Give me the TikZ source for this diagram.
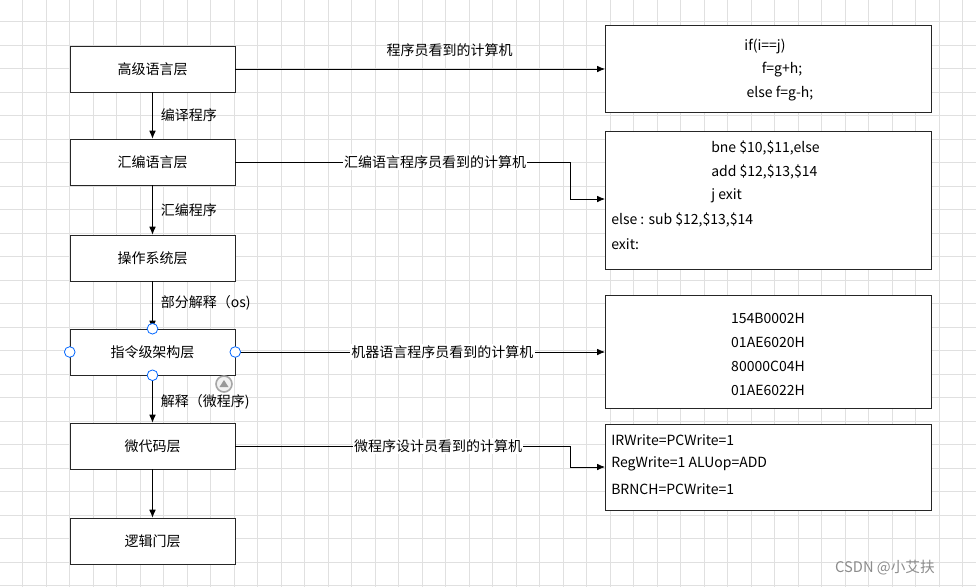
\documentclass[tikz,border=0pt]{standalone}
\usepackage{fontspec}
\setmainfont{Noto Sans CJK SC}
\usetikzlibrary{arrows.meta}
\tikzset{
  layer/.style={draw=black!85, fill=white, minimum width=123.75pt, minimum height=34.5pt, inner sep=0pt, font=\fontsize{10.5}{12}\selectfont},
  panel/.style={draw=black!85, fill=white},
  txt/.style={inner sep=0pt, font=\fontsize{10.5}{12}\selectfont},
  lbl/.style={fill=white, inner sep=1pt, font=\fontsize{10.5}{12}\selectfont},
  handle/.style={circle, draw=blue!60!cyan, fill=white, minimum size=8pt, inner sep=0pt, line width=0.6pt},
  link/.style={-{Latex[length=6pt,width=5pt]}, line width=0.6pt}
}
\begin{document}
\begin{tikzpicture}[x=0.75pt, y=-0.75pt]

\useasboundingbox (0,0) rectangle (976,587);
\fill[white] (0,0) rectangle (976,587);

% grid
\foreach \gx in {0,...,41} \draw[black!12, line width=0.6pt] ({22.7+23.5*\gx},0) -- ({22.7+23.5*\gx},587);
\foreach \gy in {0,...,24} \draw[black!12, line width=0.6pt] (0,{21.5+23.5*\gy}) -- (976,{21.5+23.5*\gy});

% left column
\node[layer] (high) at (152.5,69) {高级语言层};
\node[layer] (asm) at (152.5,162) {汇编语言层};
\node[layer] (os) at (152.5,258) {操作系统层};
\node[layer] (isa) at (152.5,352) {指令级架构层};
\node[layer] (micro) at (152.5,446) {微代码层};
\node[layer] (gate) at (152.5,541) {逻辑门层};

% right panels
\draw[panel] (605,25) rectangle (931,112);
\draw[panel] (605,131) rectangle (931,269);
\draw[panel] (605,295) rectangle (931,408);
\draw[panel] (605,424) rectangle (931,510);
\coordinate (p1) at (605,69);
\coordinate (p2) at (605,199);
\coordinate (p3) at (605,352);
\coordinate (p4) at (605,467);

% panel texts
\node[txt] (c1a) at (765,46) {if(i==j)};
\node[txt] (c1b) at (782,70) {f=g+h;};
\node[txt] (c1c) at (780,94) {else f=g-h;};
\node[txt, anchor=west] (c2a) at (711,148) {bne \$10,\$11,else};
\node[txt, anchor=west] (c2b) at (711,172) {add \$12,\$13,\$14};
\node[txt, anchor=west] (c2c) at (711,196) {j exit};
\node[txt, anchor=west] (c2d) at (611,220) {else : sub \$12,\$13,\$14};
\node[txt, anchor=west] (c2e) at (611,244) {exit:};
\node[txt] (c3a) at (768,318) {154B0002H};
\node[txt] (c3b) at (768,342) {01AE6020H};
\node[txt] (c3c) at (768,366) {80000C04H};
\node[txt] (c3d) at (768,390) {01AE6022H};
\node[txt, anchor=west] (c4a) at (611,440) {IRWrite=PCWrite=1};
\node[txt, anchor=west] (c4b) at (611,464) {RegWrite=1 ALUop=ADD};
\node[txt, anchor=west] (c4c) at (611,489) {BRNCH=PCWrite=1};

% vertical arrows
\draw[link] (high) -- (asm) node[txt, midway, right=6pt] {编译程序};
\draw[link] (asm) -- (os) node[txt, midway, right=6pt] {汇编程序};
\draw[link] (os) -- (isa) node[txt, pos=0.45, right=6pt] {部分解释（os)};
\draw[link] (isa) -- (micro) node[txt, pos=0.55, right=6pt] {解释（微程序)};
\draw[link] (micro) -- (gate);

% horizontal links
\draw[link] (high) -- (p1) node[txt, pos=0.58, above=9pt] {程序员看到的计算机};
\draw[link] (asm.east) -- (570,162) -- (570,199) -- (p2);
\node[lbl] (l2) at (435,162) {汇编语言程序员看到的计算机};
\draw[link] (isa) -- (p3) node[lbl, pos=0.56] {机器语言程序员看到的计算机};
\draw[link] (micro.east) -- (570,446) -- (570,467) -- (p4);
\node[lbl] (l4) at (438,446) {微程序设计员看到的计算机};

% selection handles
\node[handle] (hn) at (isa.north) {};
\node[handle] (hs) at (isa.south) {};
\node[handle] (hw) at (isa.west) {};
\node[handle] (he) at (isa.east) {};
\node[circle, draw=black!35, fill=black!5, line width=1.2pt, minimum size=12pt, inner sep=0pt] (rot) at (224,384) {};
\fill[black!40] (219.5,387) -- (228.5,387) -- (224,380) -- cycle;

% watermark
\node[txt, text=black!45, font=\fontsize{11}{12}\selectfont] (mark) at (885,568) {CSDN @小艾扶};

\end{tikzpicture}
\end{document}
